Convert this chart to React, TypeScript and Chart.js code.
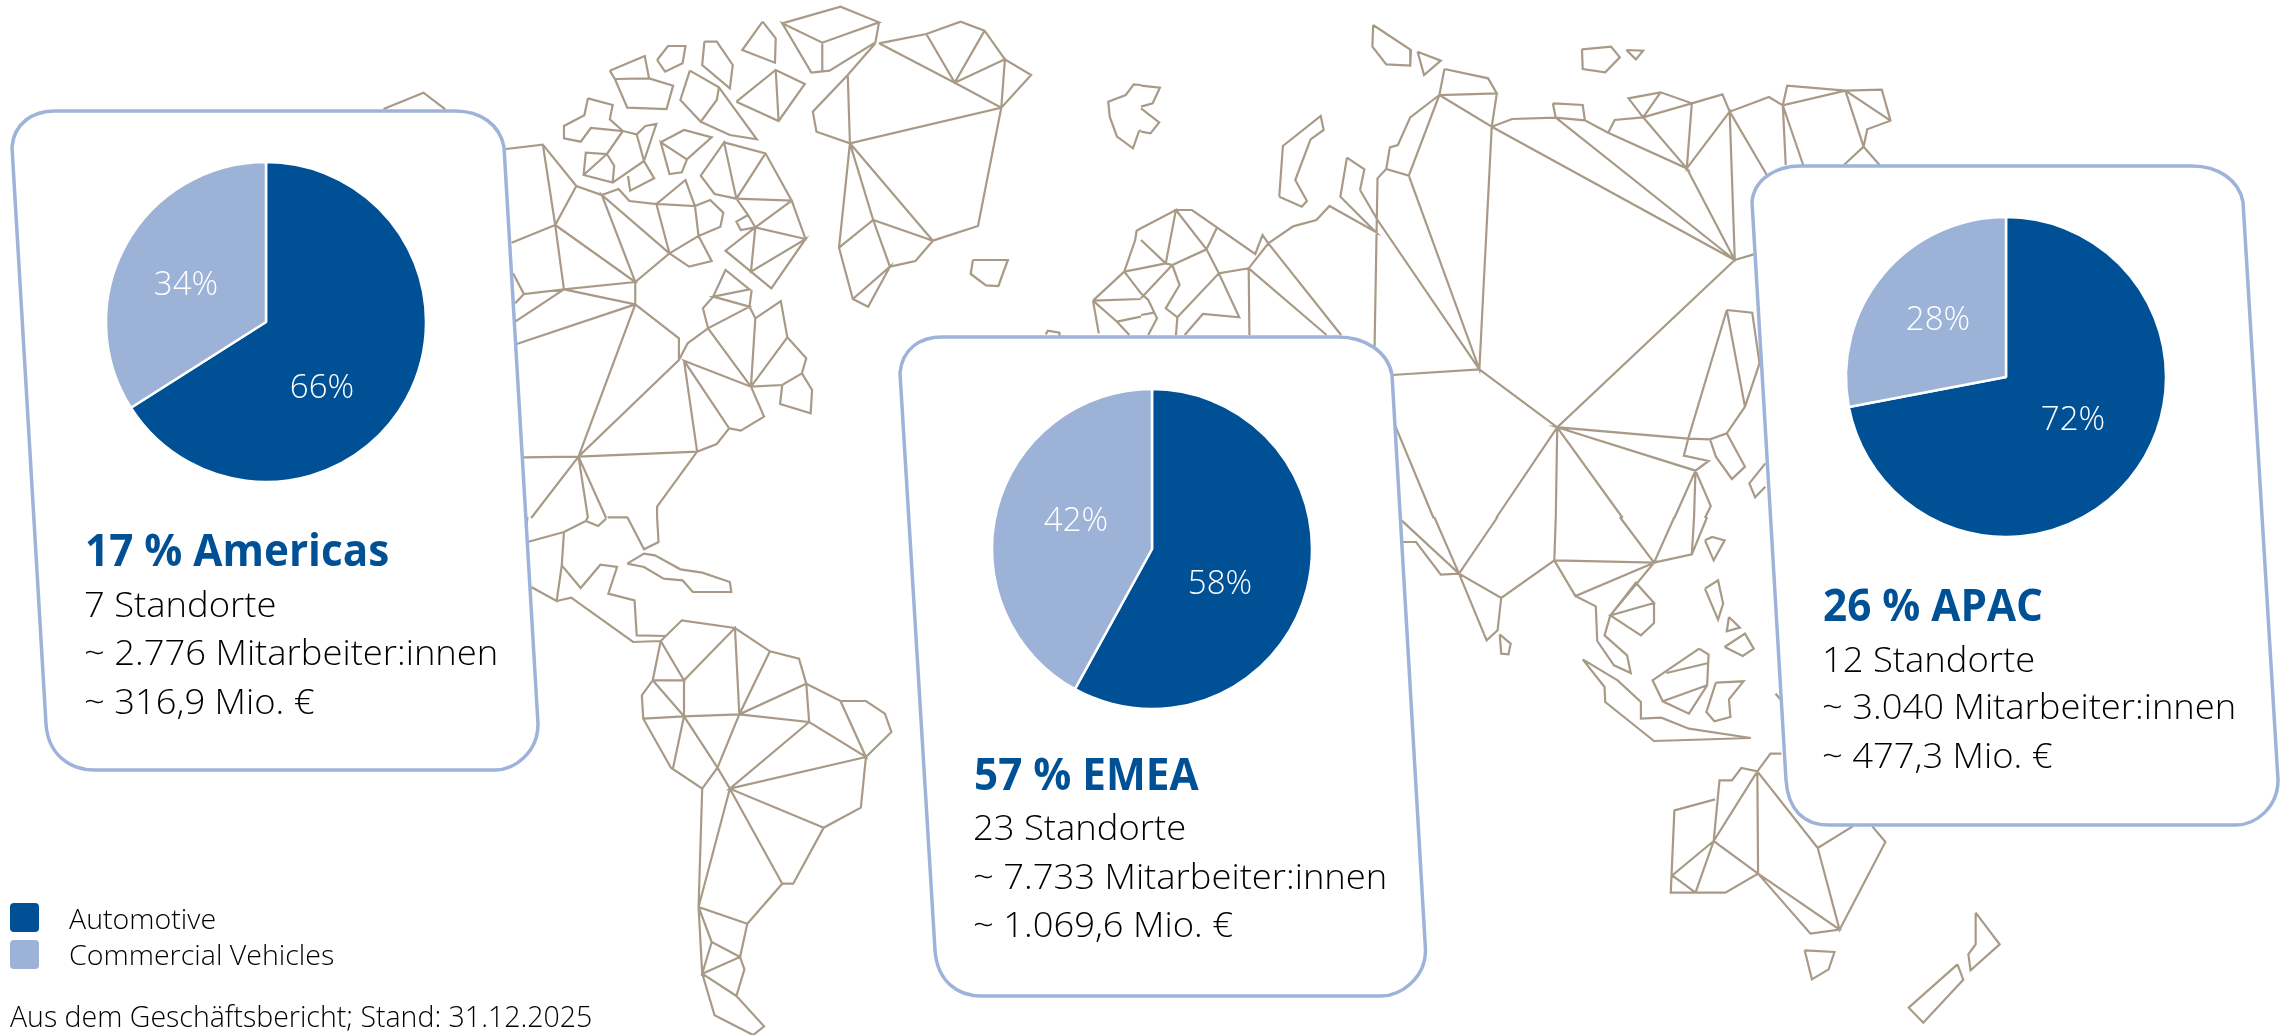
import React, { useEffect, useRef } from "react";
import { Chart, registerables } from "chart.js";

Chart.register(...registerables);

const categories = ["Automotive", "Commercial Vehicles"];
const americasShares = [66, 34];
const emeaShares = [58, 42];
const apacShares = [72, 28];
const DARK = "#005096";
const LIGHT = "#9cb2d7";
const MAP = "#a89a87";
const CARD = "#9db3d9";

// Map outline; each list is x,y,x,y… in a quadrant's own reading grid
const mapNW: number[][] = [
  [1075,70,1155,20,1208,67,1130,128,1075,70,1115,218,1140,212,1203,127,1208,67],[1130,128,1130,212],
  [1208,130,1273,102,1320,65,1353,92,1381,178,1417,225,1376,323,1312,248,1208,130],[1273,102,1312,248,1353,92],[1312,248,1381,178,1376,323],
  [1203,130,1165,225,1117,335,1122,395,1168,430,1376,323,1344,678,1282,722,1168,430],[1165,225,1168,430],
  [1168,430,1153,743,1172,897,1193,920,1223,800,1172,897],[1168,430,1200,660,1223,800,1258,783,1282,722,1200,660,1153,743],
  [1337,780,1385,780,1372,858,1355,856,1334,822,1337,780],
  [1048,65,1066,115,1065,188,1020,150,1048,65],[838,212,886,168,892,235,845,237,838,212],[845,237,892,235,925,257,916,327,862,323,845,237],
  [903,180,918,138,942,138,938,190,914,215,903,180],[968,125,985,125,1007,195,1003,265,965,195,968,125],
  [948,212,988,262,985,300,963,365,935,300,948,212],[988,262,1040,418,1003,405,963,365],[1012,305,1066,210,1106,252,1070,363,1012,305],[1066,210,1070,363],
  [808,295,842,315,838,358,856,393,812,384,798,425,775,415,775,378,803,346,808,295],
  [856,393,834,462,805,458,802,525,842,548,885,483,875,403,856,393],[875,403,887,378,902,372,885,483,899,535,866,572,863,528],[834,462,802,525],[834,462,844,497,842,548],
  [908,427,940,390,978,412,944,478,908,427,920,522,937,517,944,478],
  [995,427,1052,460,1088,602,1012,596,995,427,963,527,982,582,1012,596,1052,460],[1012,596,1028,645,1038,682,1018,690,1012,665,1028,645],
  [1088,602,1038,682],[1088,602,1107,717,1038,682,997,752,1060,865,1107,717,1032,815,1038,682],
  [695,447,746,434,792,558,827,585,850,567,865,603,902,612,942,540,955,618,902,612,920,760,960,708,955,618,976,600,994,638,990,680,960,708,978,783,947,800,920,760,873,846,827,585,920,760],
  [746,434,763,675,792,558],[763,675,873,846,775,868,763,675,703,728],[775,868,873,913,873,846],[775,868,720,882,705,820],[720,882,708,910],[775,868,708,965],[873,913,710,1032],
  [873,913,933,1015,933,1080,795,1370,873,913],
  [933,1080,945,1030,973,985,966,925,980,890,997,810,1030,868,980,890,1030,920,973,985,1032,1160,1038,955,1030,920,1033,870],
  [1038,955,1073,903,1082,1012,1108,1075,1102,1120,1075,1155,1032,1160,940,1082,1002,1285,1018,1292,1050,1250,1032,1160],[1082,1012,1032,1160],
  [940,1082,958,1355,795,1370,720,1372],[1002,1285,985,1332,958,1355,903,1520,903,1554],[1102,1120,1116,1170,1114,1240,1072,1212,1075,1155],
  [795,1370,730,1554],[795,1370,808,1554],[795,1370,833,1554],[835,1552,862,1552],[527,327,582,278,612,328],
  [1568,255,1558,253,1547,285,1523,305,1525,350,1535,410,1557,445,1565,395,1568,390],
  [1545,815,1560,720,1562,692,1568,685],[1545,815,1568,805],[1545,815,1568,880],[1502,902,1545,815],[1502,902,1568,897],[1502,902,1510,1000],[1502,902,1535,965,1552,1005],[1535,965,1568,950],
  [1437,1003,1440,992,1456,998,1456,1010],
];
const mapNE: number[][] = [
  [319,75,371,150,370,197,337,193,318,140,319,75],[380,155,412,182,389,225,380,155],[606,148,646,140,658,172,638,217,607,207,606,148],[667,150,690,152,680,178,667,150],
  [417,207,477,235,489,280,410,285,417,207],[410,285,482,380,489,280],[410,285,370,352,353,435,342,442,337,507,368,527,410,285],[337,507,325,535,321,1040],
  [368,527,465,1108,482,380,510,357,570,353,610,361,642,398,750,505,690,352,670,295,714,277,757,310,690,352,651,360,642,398],[714,277,690,352],
  [757,310,799,283,809,335,863,291,882,316,968,272,1018,269,1030,362,998,388,993,440,1015,495],[757,310,750,505,809,335,816,780,482,380],[750,505,816,780],[570,353,816,780],
  [566,310,607,315,610,361],[566,310,570,353],[882,316,888,257,968,272,1030,362],[968,272,993,440,966,495],[882,316,886,495],[882,316,910,495],[809,335,860,525],[816,780,842,763],
  [816,780,572,1282,465,1108,345,1125],[301,570,325,660,465,1108],
  [283,473,307,508,301,570],[283,473,274,590,322,695,259,618,241,660,209,679,175,730,148,805,107,820,90,748,48,630,70,630,157,762,167,705,175,730],
  [0,685,48,630,34,790,43,795,90,748,104,685],[34,790,0,720],[34,790,0,805],[43,795,53,855,34,925,50,952,107,820,135,952,85,942,60,1005],[43,795,0,895],
  [148,805,149,1005],[148,805,255,1005],[175,730,275,1005],[50,952,48,1005],[0,880,10,900,22,955,10,1005],[0,945,18,938],
  [190,590,195,438,247,348,251,390,233,418,212,540,228,603,221,620,190,590],
  [0,257,26,263,16,310,0,320],[0,325,25,367,13,400,0,395],
  [805,930,840,938,850,1090,830,1220,805,1300,782,1318,752,1316,572,1282,762,1412,780,1383,746,1367,752,1316],[805,930,752,1316],[805,930,830,1220],
  [782,1318,790,1370,812,1437,830,1400,805,1300],[572,1282,570,1554],[572,1282,488,1554],[572,1282,662,1554],[762,1412,733,1554],[762,1412,760,1554],[762,1412,783,1518,775,1554],[348,1270,402,1554],[858,1390,836,1450,844,1492,858,1460],
];
const mapSW: number[][] = [
  [725,0,723,30],[775,45,725,75],[775,45,805,12,822,27,833,5],[808,0,805,12],[862,0,885,97,905,75,903,0],
  [775,45,772,145,765,252,730,210],[772,145,798,213,825,143,848,150,836,230,872,250,875,355,915,357],[765,252,785,242,870,375,908,372],
  [862,140,885,110,900,115,935,157,965,167,1003,195,1005,225,952,225,938,190,912,185,885,150,862,140],
  [908,372,937,310,1010,333,1058,403,1098,425,1108,500,1155,552,1190,552,1216,590,1225,645,1190,720,1183,872,1132,932,1090,1100,1075,1100,1027,1220,1017,1320,1023,1357,1012,1437,1050,1528,1035,1554,982,1495,965,1370,960,1170,965,815,922,752,884,605,882,535,897,490,908,372],
  [897,490,940,490,908,372],[940,490,1010,333,1016,592,1058,403],[897,490,940,598,940,490],[884,605,940,598,1016,592,1108,500,1112,615,1016,592],
  [1155,552,1190,720,1112,615,1003,815,1190,720],[1112,615,1108,500],[940,598,925,752],[940,598,986,752,1016,592],[986,752,965,815],[986,752,1003,815,1132,932],
  [1003,815,960,1170,1027,1220],[1003,815,1075,1100],[960,1170,978,1275,1017,1320,965,1370,978,1275],[965,1370,1012,1437],
];
const mapSE: number[][] = [
  [358,10,437,170,403,0],[437,170,490,0],[360,75,378,75,412,173,437,170,495,243,568,130,570,0],[495,243,490,340,475,370,437,170],
  [568,130,705,137,658,0],[705,137,733,0],[705,137,757,112,760,0],[757,112,778,0],
  [568,130,597,237,705,137,645,295,680,197,705,258,645,295,687,355,705,318,705,258],[597,237,625,268,627,372,650,445,673,468,668,415,637,355,645,295],
  [493,352,508,380,505,412,495,410,493,352],[775,70,785,60,802,70,787,130,775,70],[775,215,793,190,800,260,793,308,775,215],[808,300,823,332,805,343,808,300],[802,390,830,350,842,395,827,417,802,390],
  [767,395,780,413,778,505,753,590,717,553,703,490,767,395],[722,468,780,438],[717,553,778,505],[790,497,828,493,808,547,810,600,788,613,777,585,790,497],
  [607,427,655,490,687,555,687,605,715,602,753,635,838,663,705,672,638,555,637,510,607,427],[872,530,880,550],
  [880,710,865,710,847,763,825,753,812,790,795,790,787,972,847,763],[789,847,733,880,728,1127,803,1127,848,1070,787,972,762,1127,728,1127],[787,972,730,1075,762,1127],
  [847,763,848,1070,920,1250,960,1238,848,1070],[847,763,930,993,978,928],[930,993,960,1238,1023,975,1005,928],
  [912,1300,953,1305,945,1357,922,1387,912,1300],[1147,1187,1180,1282,1140,1360,1137,1312,1147,1282,1147,1187],[1122,1342,1130,1388,1075,1517,1055,1472,1122,1342],
];

const GRID_X = 1141 / 1568;
const GRID_Y = 1 / 3;
function toPoints(lines: number[][], ox: number, oy: number) {
  const out: { x: number; y: number }[] = [];
  for (const l of lines) {
    for (let i = 0; i < l.length; i += 2) out.push({ x: ox + l[i] * GRID_X, y: oy + l[i + 1] * GRID_Y });
    out.push({ x: NaN, y: NaN });
  }
  return out;
}
const mapPoints = [...toPoints(mapNW, 0, 0), ...toPoints(mapNE, 1141, 0), ...toPoints(mapSW, 0, 517), ...toPoints(mapSE, 1141, 517)];

const cards = [
  { tl: [12, 147], tlx: 55, tr: [504, 147], trx: 455, top: 111, bl: [46, 724], blx: 95, br: [538, 724], brx: 495, bottom: 770 },
  { tl: [900, 373], tlx: 942, tr: [1392, 375], trx: 1338, top: 337, bl: [935, 950], blx: 982, br: [1425.5, 950], brx: 1381, bottom: 996 },
  { tl: [1752, 202], tlx: 1800, tr: [2243, 202], trx: 2192, top: 166, bl: [1786, 780], blx: 1829, br: [2278, 780], brx: 2236, bottom: 825 },
];

const cardPlugin = {
  id: "cards",
  afterDatasetsDraw(chart: any) {
    const ctx = chart.ctx;
    const X = (v: number) => chart.scales.x.getPixelForValue(v);
    const Y = (v: number) => chart.scales.y.getPixelForValue(v);
    ctx.save();
    ctx.lineWidth = 3.5;
    ctx.strokeStyle = CARD;
    ctx.fillStyle = "#ffffff";
    for (const c of cards) {
      ctx.beginPath();
      ctx.moveTo(X(c.tl[0]), Y(c.tl[1]));
      ctx.bezierCurveTo(X(c.tl[0] + 2), Y(c.top + 12), X(c.tlx - 22), Y(c.top), X(c.tlx), Y(c.top));
      ctx.lineTo(X(c.trx), Y(c.top));
      ctx.bezierCurveTo(X(c.trx + 26), Y(c.top), X(c.tr[0] - 4), Y(c.top + 14), X(c.tr[0]), Y(c.tr[1]));
      ctx.lineTo(X(c.br[0]), Y(c.br[1]));
      ctx.bezierCurveTo(X(c.br[0]), Y(c.bottom - 18), X(c.brx + 20), Y(c.bottom), X(c.brx), Y(c.bottom));
      ctx.lineTo(X(c.blx), Y(c.bottom));
      ctx.bezierCurveTo(X(c.blx - 26), Y(c.bottom), X(c.bl[0] + 2), Y(c.bottom - 16), X(c.bl[0]), Y(c.bl[1]));
      ctx.closePath();
      ctx.fill();
      ctx.stroke();
    }
    ctx.restore();
  },
};

const FONT = '"Open Sans", sans-serif';

function MapLayer() {
  const ref = useRef<HTMLCanvasElement>(null);
  useEffect(() => {
    const chart = new Chart(ref.current!, {
      type: "scatter",
      data: { datasets: [{ data: mapPoints, showLine: true, spanGaps: false, borderColor: MAP, borderWidth: 2.2, pointRadius: 0, tension: 0 }] },
      options: {
        animation: false, responsive: false,
        layout: { padding: 0 },
        plugins: { legend: { display: false }, tooltip: { enabled: false } },
        scales: {
          x: { type: "linear", display: false, min: 0, max: 2282 },
          y: { type: "linear", display: false, min: 0, max: 1035, reverse: true },
        },
      },
      plugins: [cardPlugin],
    } as any);
    return () => chart.destroy();
  }, []);
  return <canvas ref={ref} width={2282} height={1035} style={{ position: "absolute", left: 0, top: 0, width: 2282, height: 1035 }} />;
}

function Pie({ values, cx, cy, labels }: { values: number[]; cx: number; cy: number; labels: number[][] }) {
  const ref = useRef<HTMLCanvasElement>(null);
  const SIZE = 340;
  useEffect(() => {
    const labelPlugin = {
      id: "pieLabels",
      afterDatasetsDraw(chart: any) {
        const ctx = chart.ctx;
        ctx.save();
        ctx.fillStyle = "#ffffff";
        ctx.font = `300 33px ${FONT}`;
        ctx.textAlign = "center";
        ctx.textBaseline = "middle";
        values.forEach((v, i) => {
          ctx.fillText(`${v}%`, SIZE / 2 + labels[i][0], SIZE / 2 + labels[i][1] + 2);
        });
        ctx.restore();
      },
    };
    const chart = new Chart(ref.current!, {
      type: "pie",
      data: { labels: categories, datasets: [{ data: values, backgroundColor: [DARK, LIGHT], borderColor: "#ffffff", borderWidth: 2.5, radius: 160 }] },
      options: {
        animation: false, responsive: false,
        layout: { padding: 0 },
        plugins: { legend: { display: false }, tooltip: { enabled: false } },
      },
      plugins: [labelPlugin],
    } as any);
    return () => chart.destroy();
  }, []);
  return <canvas ref={ref} width={SIZE} height={SIZE} style={{ position: "absolute", left: cx - SIZE / 2, top: cy - SIZE / 2, width: SIZE, height: SIZE }} />;
}

function Txt({ x, base, size, weight = 300, color = "#000", sx = 1, children }: any) {
  return (
    <div style={{ position: "absolute", left: x, top: base - 100, height: 100, lineHeight: 0, whiteSpace: "nowrap", fontFamily: FONT, fontSize: size, fontWeight: weight, color, transform: `scaleX(${sx})`, transformOrigin: "left" }}>
      <span style={{ display: "inline-block", height: 100, width: 0 }} />
      {children}
    </div>
  );
}

function Block({ x, bases, head, lines }: { x: number; bases: number[]; head: string; lines: string[] }) {
  return (
    <>
      <Txt x={x} base={bases[0]} size={44} weight={700} color={DARK} sx={0.96}>{head}</Txt>
      {lines.map((l, i) => (
        <Txt key={l} x={x - 1} base={bases[i + 1]} size={35} sx={1.04}>{l}</Txt>
      ))}
    </>
  );
}

export default function App() {
  return (
    <div style={{ position: "absolute", left: 0, top: 0, width: 2282, height: 1035, overflow: "hidden", background: "#fff" }}>
      <MapLayer />
      <Pie values={americasShares} cx={266} cy={322} labels={[[56, 65], [-80, -38]]} />
      <Pie values={emeaShares} cx={1152} cy={549} labels={[[68, 34], [-76, -29]]} />
      <Pie values={apacShares} cx={2005.5} cy={377} labels={[[67, 42], [-68, -58]]} />
      <Block x={85} bases={[566, 617, 665, 714]} head="17 % Americas" lines={["7 Standorte", "~ 2.776 Mitarbeiter:innen", "~ 316,9 Mio. €"]} />
      <Block x={974} bases={[790, 840, 889, 937]} head="57 % EMEA" lines={["23 Standorte", "~ 7.733 Mitarbeiter:innen", "~ 1.069,6 Mio. €"]} />
      <Block x={1823} bases={[621, 672, 719, 768]} head="26 % APAC" lines={["12 Standorte", "~ 3.040 Mitarbeiter:innen", "~ 477,3 Mio. €"]} />
      {categories.map((c, i) => (
        <React.Fragment key={c}>
          <div style={{ position: "absolute", left: 9.5, top: 903 + i * 37, width: 29, height: 29, borderRadius: 4, background: i === 0 ? DARK : LIGHT }} />
          <Txt x={69} base={929 + i * 36} size={28} sx={1.02}>{c}</Txt>
        </React.Fragment>
      ))}
      <Txt x={10} base={1027} size={28.5}>Aus dem Geschäftsbericht; Stand: 31.12.2025</Txt>
    </div>
  );
}
